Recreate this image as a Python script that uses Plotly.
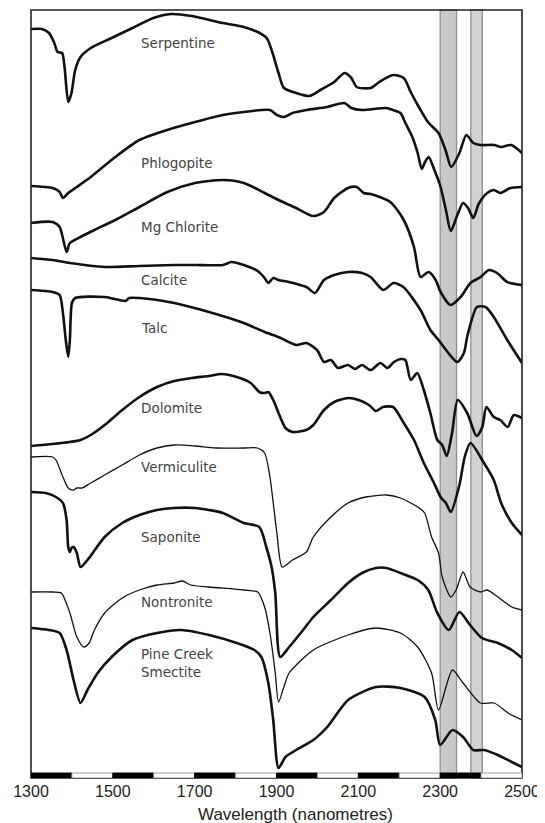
import plotly.graph_objects as go

# ---------------- data (offset reflectance, arbitrary units) ----------------
serp_wl = [1300,1327,1344,1357,1365,1376,1382,1391,1399,1408,1421,1446,1497,1548,1599,1642,1693,1769,1820,1854,1876,1888,1905,1918,1948,1981,2007,2041,2066,2083,2096,2130,2151,2185,2211,2228,2245,2270,2296,2313,2327,2347,2364,2381,2398,2432,2449,2474,2500]
serp_h = [746,746,742,732,723,722,708,673,682,705,718,727,737,747,757,761,759,752,748,743,737,725,702,687,682,679,685,693,702,697,688,687,693,700,697,683,670,653,642,625,608,622,640,632,630,630,628,630,622]

phlog_wl = [1300,1353,1370,1378,1391,1412,1446,1506,1565,1633,1701,1769,1820,1884,1901,1918,1939,1973,2024,2066,2083,2109,2168,2185,2203,2215,2232,2245,2255,2263,2272,2285,2301,2314,2326,2342,2356,2368,2381,2394,2415,2431,2447,2472,2500]
phlog_h = [589,587,583,577,582,588,598,618,635,645,653,660,663,665,660,658,662,665,668,672,667,665,667,665,662,652,638,622,606,613,618,606,588,565,544,560,572,567,557,571,582,585,582,587,588]

chlor_wl = [1300,1353,1370,1387,1395,1421,1455,1506,1565,1633,1701,1769,1820,1871,1905,1948,1990,2016,2041,2075,2096,2113,2130,2178,2211,2236,2252,2272,2289,2301,2325,2350,2374,2399,2419,2439,2464,2500]
chlor_h = [552,553,548,523,532,538,545,555,568,583,592,595,592,582,575,567,559,563,577,587,588,582,581,573,555,528,498,503,495,483,470,478,492,498,505,502,493,490]

calc_wl = [1300,1353,1395,1480,1565,1650,1700,1769,1790,1820,1854,1871,1880,1892,1905,1930,1973,1994,2016,2041,2075,2109,2130,2161,2186,2210,2252,2276,2296,2320,2342,2358,2367,2390,2411,2431,2464,2500]
calc_h = [517,515,512,508,509,510,510,510,513,510,504,497,492,497,495,493,488,482,495,500,503,502,498,485,492,488,465,445,435,422,413,422,440,468,468,458,435,412]

talc_wl = [1300,1353,1370,1378,1385,1391,1395,1400,1408,1480,1531,1540,1565,1650,1735,1820,1871,1905,1948,1973,1999,2016,2033,2050,2075,2092,2109,2130,2154,2171,2187,2204,2215,2228,2244,2260,2276,2293,2305,2316,2329,2343,2366,2389,2403,2413,2431,2447,2465,2480,2500]
talc_h = [485,483,480,462,435,418,435,472,477,478,474,477,477,472,463,452,443,438,430,432,425,413,415,407,410,406,410,405,412,407,413,416,415,395,402,385,362,335,330,319,342,375,362,339,348,368,358,355,348,360,357]

dolo_wl = [1300,1353,1395,1421,1446,1480,1523,1565,1608,1650,1693,1735,1765,1803,1837,1858,1871,1880,1892,1905,1922,1939,1973,1990,2016,2041,2075,2101,2126,2143,2160,2185,2211,2236,2260,2285,2301,2314,2326,2347,2360,2374,2407,2431,2449,2475,2500]
dolo_h = [329,331,333,335,340,350,365,378,388,394,397,399,401,398,392,383,382,383,375,362,347,343,345,350,365,373,377,375,370,364,368,368,352,335,312,292,278,272,263,290,318,332,312,295,272,252,240]

verm_wl = [1300,1353,1361,1378,1391,1404,1412,1425,1446,1480,1523,1565,1608,1650,1701,1752,1820,1854,1871,1884,1892,1901,1914,1939,1973,1990,2033,2075,2118,2169,2203,2245,2262,2279,2296,2305,2326,2339,2356,2373,2398,2415,2441,2475,2500]
verm_h = [318,318,315,298,287,285,287,287,292,300,310,320,327,330,329,327,327,327,322,298,272,242,208,215,223,238,258,272,278,280,277,268,262,238,222,198,178,185,203,188,183,185,178,168,165]

sapo_wl = [1300,1336,1361,1378,1387,1391,1395,1399,1404,1412,1421,1438,1480,1523,1565,1608,1650,1701,1735,1769,1820,1858,1875,1888,1897,1909,1931,1965,1990,2033,2075,2109,2143,2169,2203,2245,2271,2292,2321,2347,2373,2402,2441,2475,2500]
sapo_h = [283,282,278,272,255,228,223,227,228,222,208,215,238,252,260,265,267,267,265,262,252,248,228,208,182,118,128,145,158,175,192,202,207,207,202,195,185,163,145,163,150,137,132,125,117]

nont_wl = [1300,1353,1374,1395,1412,1429,1442,1455,1480,1523,1565,1608,1650,1670,1690,1735,1820,1854,1871,1884,1897,1905,1918,1931,1990,2075,2143,2203,2245,2279,2296,2330,2356,2398,2432,2466,2500]
nont_h = [183,183,182,162,138,128,132,145,162,177,185,190,192,194,190,188,185,183,168,142,102,73,88,102,125,140,147,142,128,102,65,105,92,72,72,62,55]

pine_wl = [1300,1344,1370,1387,1404,1421,1438,1463,1497,1548,1608,1667,1735,1803,1846,1863,1880,1892,1905,1922,1948,1990,2024,2075,2143,2203,2262,2288,2300,2330,2356,2381,2407,2441,2475,2500]
pine_h = [147,145,142,125,95,72,85,102,118,135,142,145,140,132,125,118,92,55,7,18,25,35,48,75,88,87,78,55,30,45,38,25,25,20,13,8]

names = ["Serpentine", "Phlogopite", "Mg Chlorite", "Calcite", "Talc",
         "Dolomite", "Vermiculite", "Saponite", "Nontronite", "Pine Creek<br>Smectite"]
series = [(serp_wl, serp_h), (phlog_wl, phlog_h), (chlor_wl, chlor_h), (calc_wl, calc_h),
          (talc_wl, talc_h), (dolo_wl, dolo_h), (verm_wl, verm_h), (sapo_wl, sapo_h),
          (nont_wl, nont_h), (pine_wl, pine_h)]
thin = {"Vermiculite", "Nontronite"}
label_h = [732, 612, 548, 495, 447, 367, 308, 238, 173, 112]
label_wl = 1563

band_edges = [(2300, 2340), (2375, 2403)]
scale_edges = list(range(1300, 2600, 100))
tick_vals = list(range(1300, 2600, 200))

# ---------------- figure ----------------
fig = go.Figure()
for name, (wl, h) in zip(names, series):
    fig.add_trace(go.Scatter(
        x=wl, y=h, mode="lines", name=name.replace("<br>", " "),
        line=dict(color="#111111", width=1.3 if name in thin else 2.6,
                  shape="spline", smoothing=0.7),
        hoverinfo="skip", showlegend=False))

shapes = []
band_fills = ["#c9c9c9", "#d2d2d2"]
for (a, b), fc in zip(band_edges, band_fills):
    shapes.append(dict(type="rect", xref="x", yref="paper", x0=a, x1=b, y0=0, y1=1,
                       fillcolor=fc, line=dict(color="#8f8f8f", width=1.3), layer="below"))
# frame
shapes.append(dict(type="rect", xref="paper", yref="paper", x0=0, x1=1, y0=0, y1=1,
                   line=dict(color="#222222", width=1.6), fillcolor="rgba(0,0,0,0)", layer="above"))
# black / white scale bar along the bottom
for i in range(len(scale_edges) - 1):
    black = (i % 2 == 0)
    shapes.append(dict(type="rect", xref="x", yref="y",
                       x0=scale_edges[i], x1=scale_edges[i + 1], y0=-3, y1=2,
                       fillcolor="#000000" if black else "#ffffff",
                       line=dict(color="#000000" if black else "#9a9a9a", width=1),
                       layer="above"))

annotations = []
for name, lh in zip(names, label_h):
    annotations.append(dict(x=label_wl, y=lh, xref="x", yref="y", text=name,
                            showarrow=False, xanchor="left", yanchor="middle", align="left",
                            font=dict(family="DejaVu Sans", size=13.5, color="#444444")))
annotations.append(dict(x=1946, y=-0.048, xref="x", yref="paper",
                        text="Wavelength (nanometres)", showarrow=False,
                        xanchor="center", yanchor="middle",
                        font=dict(family="Liberation Sans, Arial", size=17, color="#222222")))

fig.update_layout(
    width=537, height=815,
    margin=dict(l=22.5, r=23.3, t=2, b=45, autoexpand=False),
    paper_bgcolor="white", plot_bgcolor="white",
    shapes=shapes, annotations=annotations,
    xaxis=dict(range=[1300, 2500], tickvals=tick_vals, ticktext=[str(v) for v in tick_vals],
               showgrid=False, zeroline=False, showline=False, ticks="",
               tickfont=dict(family="Liberation Sans, Arial", size=16, color="#222222"),
               ticklabelstandoff=2, automargin=False),
    yaxis=dict(range=[-3, 765], showgrid=False, zeroline=False, showline=False,
               showticklabels=False, ticks="", automargin=False),
)

fig.write_html("out.html")
